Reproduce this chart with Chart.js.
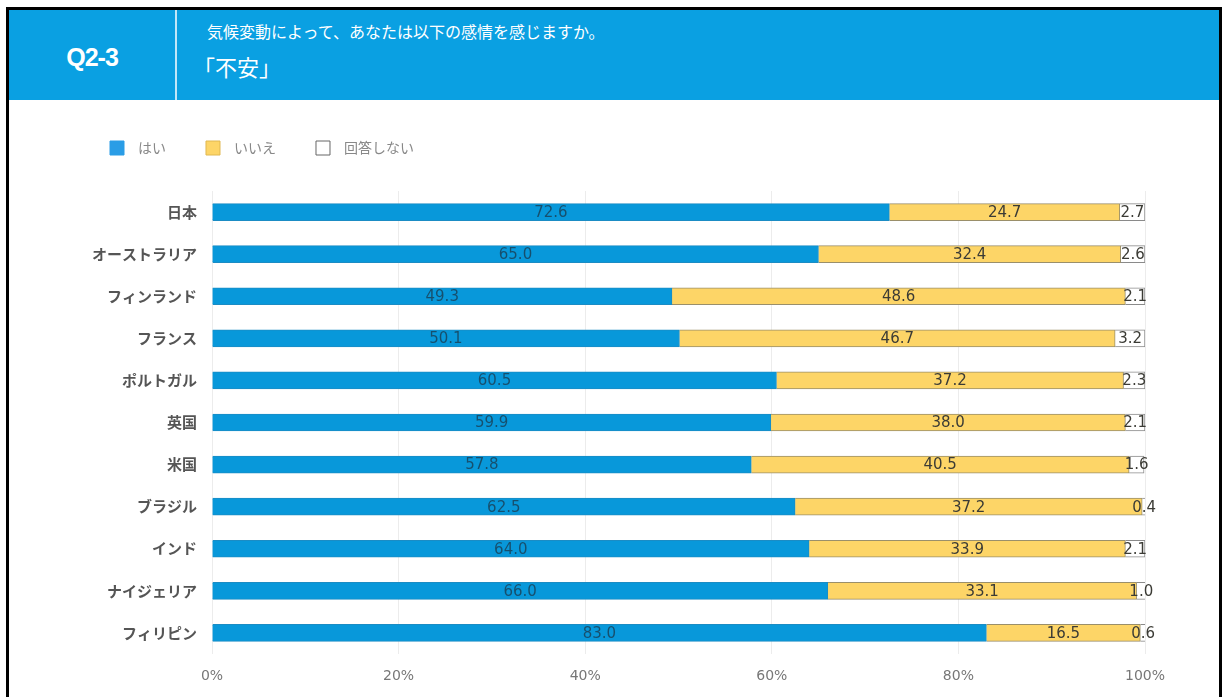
<!DOCTYPE html>
<html lang="ja">
<head>
<meta charset="utf-8">
<script src="https://cdn.jsdelivr.net/npm/chart.js@4.4.0/dist/chart.umd.min.js"></script>
<style>
    body { margin: 0; background: #fff; width: 1225px; height: 697px; overflow: hidden; position: relative; }
    .frame { position: absolute; left: 6px; top: 7px; width: 1210px; height: 720px; border: 3px solid #000; border-bottom: none; }
    .header { position: absolute; left: 0; top: 0; width: 1210px; height: 90px; background: #0aa0e2; color: #fff; font-family: 'Noto Sans CJK JP', sans-serif; }
    .qno { position: absolute; left: 0; top: 0; width: 166px; height: 90px; line-height: 94px; text-align: center; font-family: 'Liberation Sans', Arial, sans-serif; font-weight: bold; font-size: 25px; letter-spacing: -1px; }
    .divider { position: absolute; left: 166px; top: 0; width: 2px; height: 90px; background: rgba(255, 255, 255, 0.75); }
    .sub { position: absolute; left: 198px; top: 9px; font-size: 16px; }
    .title { position: absolute; left: 184px; top: 40px; font-size: 22px; }
    #wrap { position: absolute; left: 10px; top: 100px; width: 1205px; height: 597px; }
</style>
</head>
<body>
<div class="frame">
    <div class="header">
        <div class="qno">Q2-3</div>
        <div class="divider"></div>
        <div class="sub">気候変動によって、あなたは以下の感情を感じますか。</div>
        <div class="title">「不安」</div>
    </div>
</div>
<div id="wrap"><canvas id="barAnxiety" width="1205" height="597"></canvas></div>

<script>
// values (%)
var paises = ['日本', 'オーストラリア', 'フィンランド', 'フランス', 'ポルトガル', '英国', '米国', 'ブラジル', 'インド', 'ナイジェリア', 'フィリピン'];
var seriesNames = ['はい', 'いいえ', '回答しない'];
var yesValues = [72.6, 65.0, 49.3, 50.1, 60.5, 59.9, 57.8, 62.5, 64.0, 66.0, 83.0];
var noValues = [24.7, 32.4, 48.6, 46.7, 37.2, 38.0, 40.5, 37.2, 33.9, 33.1, 16.5];
var noAnswerValues = [2.7, 2.6, 2.1, 3.2, 2.3, 2.1, 1.6, 0.4, 2.1, 1.0, 0.6];
var xTicks = [0, 20, 40, 60, 80, 100];

Chart.defaults.font.family = "'Noto Sans CJK JP', 'Noto Sans', sans-serif";

// numbers in the middle of every segment
const valueLabels = {
    id: 'valueLabels',
    afterDatasetsDraw: function (chart) {
        const ctx = chart.ctx;
        ctx.save();
        ctx.font = "15px 'DejaVu Sans', sans-serif";
        ctx.textAlign = 'center';
        ctx.textBaseline = 'middle';
        chart.data.datasets.forEach(function (ds, i) {
            const meta = chart.getDatasetMeta(i);
            meta.data.forEach(function (bar, j) {
                ctx.fillStyle = i == 0 ? 'rgba(30, 40, 50, 0.65)' : '#3b3b35';
                ctx.fillText(ds.data[j].toFixed(1), (bar.x + bar.base) / 2, bar.y + 1);
            });
        });
        ctx.restore();
    }
};

// the legend sits higher than the default spacing allows
const legendHeight = {
    id: 'legendHeight',
    beforeInit: function (chart) {
        const fit = chart.legend.fit;
        chart.legend.fit = function () {
            fit.bind(chart.legend)();
            this.height = 90;
        };
    }
};

const legendColors = ['#2a9de6', '#fdd567', '#ffffff'];
const legendBorders = ['#2a9de6', '#e0b850', '#666666'];

const ctx = document.getElementById('barAnxiety').getContext('2d');
const myChart = new Chart(ctx, {
    type: 'bar',
    data: {
        labels: paises,
        datasets: [{
            label: seriesNames[0],
            data: yesValues,
            backgroundColor: '#0898da',
            borderColor: '#1b8cc4',
            borderWidth: 1
        }, {
            label: seriesNames[1],
            data: noValues,
            backgroundColor: '#fdd567',
            borderColor: '#9a8f6a',
            borderWidth: 1
        }, {
            label: seriesNames[2],
            data: noAnswerValues,
            backgroundColor: '#ffffff',
            borderColor: '#8a8a8a',
            borderWidth: 1
        }]
    },
    options: {
        indexAxis: 'y',
        responsive: false,
        animation: false,
        barThickness: 17,
        layout: {
            padding: { left: 60, top: 1, right: 70, bottom: 3 }
        },
        plugins: {
            tooltip: { enabled: false },
            legend: {
                position: 'top',
                align: 'start',
                labels: {
                    boxWidth: 14,
                    boxHeight: 14,
                    padding: 40,
                    color: '#888',
                    font: { size: 14 },
                    generateLabels: function (chart) {
                        return seriesNames.map(function (name, i) {
                            return {
                                text: '\u2002' + name,
                                fillStyle: legendColors[i],
                                strokeStyle: legendBorders[i],
                                lineWidth: 1,
                                fontColor: '#888',
                                datasetIndex: i
                            };
                        });
                    }
                }
            }
        },
        scales: {
            x: {
                stacked: true,
                min: 0,
                max: 100,
                afterBuildTicks: function (scale) {
                    scale.ticks = xTicks.map(function (v) { return { value: v }; });
                },
                afterFit: function (scale) {
                    scale.height = 40;
                },
                grid: { color: '#ececec', drawTicks: false },
                border: { display: false },
                ticks: {
                    padding: 14,
                    color: '#777',
                    font: { size: 14, family: "'DejaVu Sans', sans-serif" },
                    callback: function (v) { return v + '%'; }
                }
            },
            y: {
                stacked: true,
                afterFit: function (scale) {
                    scale.width = 142;
                },
                grid: { display: false },
                border: { display: false },
                ticks: {
                    padding: 7,
                    color: '#555',
                    font: { size: 15, weight: 'bold' }
                }
            }
        }
    },
    plugins: [valueLabels, legendHeight]
});
</script>
</body>
</html>
